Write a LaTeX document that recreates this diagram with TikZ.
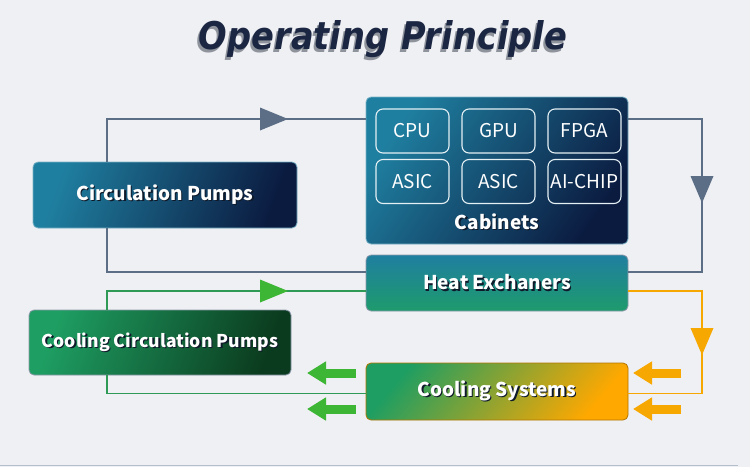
\documentclass[tikz,border=0pt]{standalone}
\usepackage{fontspec}
\setmainfont{Noto Sans CJK SC}
\newfontfamily\titlefont{DejaVu Sans}
\usetikzlibrary{arrows.meta}
\definecolor{bgc}{HTML}{EFF0F4}
\definecolor{rule}{HTML}{B3BFCB}
\definecolor{navy}{HTML}{0B1B40}
\definecolor{tealb}{HTML}{1F7FA0}
\definecolor{greenb}{HTML}{1E9E62}
\definecolor{darkgreen}{HTML}{0B3B1E}
\definecolor{hxgreen}{HTML}{1E9B6C}
\definecolor{orangeb}{HTML}{FFA800}
\definecolor{pipeblue}{HTML}{5B6E85}
\definecolor{pipegreen}{HTML}{2E9A55}
\definecolor{arrowgreen}{HTML}{3DB535}
\definecolor{pipeorange}{HTML}{F7A800}
\definecolor{titlec}{HTML}{1B2642}
\definecolor{titleshadow}{HTML}{8E939C}
\definecolor{txtshadow}{HTML}{0F1A2A}
\newcommand{\shd}[1]{\leavevmode\rlap{\kern1.3pt\raisebox{-1.3pt}{\color{txtshadow}#1}}#1}
\newcommand{\titleshd}[1]{\leavevmode\rlap{\kern-0.6pt\raisebox{-0.6pt}{\color{titleshadow}#1}}{\color{titlec}#1}}
\tikzset{
  box/.style={rounded corners=5pt, draw=#1, line width=0.8pt, inner sep=0pt,
    minimum width=262pt, text=white, font=\bfseries\fontsize{19}{19}\selectfont},
  chip/.style={rounded corners=7pt, draw=white!88!tealb, line width=1.1pt,
    minimum width=73pt, minimum height=44pt, inner sep=0pt, text=white,
    font=\fontsize{19}{19}\selectfont},
  pipe/.style={line width=1.8pt, draw=#1},
  blockarrow/.style={line width=9pt, draw=#1, -{Triangle[length=19pt,width=22pt]}}
}
\begin{document}
\begin{tikzpicture}[x=1pt, y=-1pt]
\useasboundingbox (0,0) rectangle (750,467);
\fill[bgc] (0,0) rectangle (750,467);
\draw[rule, line width=1.5pt] (0,465.5) -- (738,465.5);

\node (title) at (383,40.5) {\titlefont\bfseries\itshape\resizebox{368pt}{29pt}{\titleshd{Operating Principle}}};

% boxes
\node[box=tealb!60, minimum height=147pt, top color=tealb, bottom color=navy, shading angle=55] (cab) at (497,170.5) {};
\node[box=tealb!60, minimum width=264pt, minimum height=66pt, top color=tealb, bottom color=navy, shading angle=70] (pump) at (165,195) {\shd{Circulation Pumps}};
\node[box=pipeblue!70, minimum height=56pt, top color=tealb, bottom color=hxgreen] (hx) at (497,283) {\shd{Heat Exchaners}};
\node[box=pipeblue!70, minimum height=65pt, top color=greenb, bottom color=darkgreen, shading angle=70, font=\bfseries\fontsize{17.6}{18}\selectfont] (cpump) at (160,342.5) {\shd{Cooling Circulation Pumps}};
\node[box=orangeb!70!black, minimum height=57pt, top color=greenb, bottom color=orangeb, shading angle=50] (cool) at (497,391.5) {\shd{Cooling Systems}};

% chips
\node[chip] (cpu) at (412.5,131) {CPU};
\node[chip] (gpu) at (498.5,131) {GPU};
\node[chip] (fpga) at (584.5,131) {FPGA};
\node[chip] (asic1) at (412.5,181.5) {ASIC};
\node[chip] (asic2) at (498.5,181.5) {ASIC};
\node[chip] (aichip) at (584.5,181.5) {AI-CHIP};
\node[text=white, font=\bfseries\fontsize{19}{19}\selectfont] (cablabel) at (497,222) {\shd{Cabinets}};

% pipe levels
\coordinate (lx) at (107,0);
\coordinate (rx) at (702,0);
\coordinate (ytop) at (0,119);
\coordinate (yhx) at (0,272);
\coordinate (ygreen) at (0,291);
\coordinate (ylow) at (0,393.5);

% circulation loop
\draw[pipe=pipeblue] (pump.north -| lx) |- (cab.west |- ytop);
\draw[pipe=pipeblue] (cab.east |- ytop) -| (rx |- yhx) -- (hx.east |- yhx);
\draw[pipe=pipeblue] (pump.south -| lx) |- (hx.west |- yhx);
\fill[pipeblue] (260,107.5) -- (288,119) -- (260,130.5) -- cycle;
\fill[pipeblue] (690.5,176) -- (702,203) -- (713.5,176) -- cycle;

% cooling loop
\draw[pipe=pipegreen] (cpump.north -| lx) |- (hx.west |- ygreen);
\draw[pipe=pipegreen] (cpump.south -| lx) |- (cool.west |- ylow);
\fill[arrowgreen] (260,279.5) -- (288,291) -- (260,302.5) -- cycle;
\draw[pipe=pipeorange] (hx.east |- ygreen) -| (rx |- ylow) -- (cool.east |- ylow);
\fill[pipeorange] (690.5,328) -- (702,355) -- (713.5,328) -- cycle;

% heat out
\draw[blockarrow=arrowgreen] (356,373) -- (307,373);
\draw[blockarrow=arrowgreen] (356,409) -- (307,409);
\draw[blockarrow=pipeorange] (681,373) -- (633,373);
\draw[blockarrow=pipeorange] (681,409) -- (633,409);
\end{tikzpicture}
\end{document}
